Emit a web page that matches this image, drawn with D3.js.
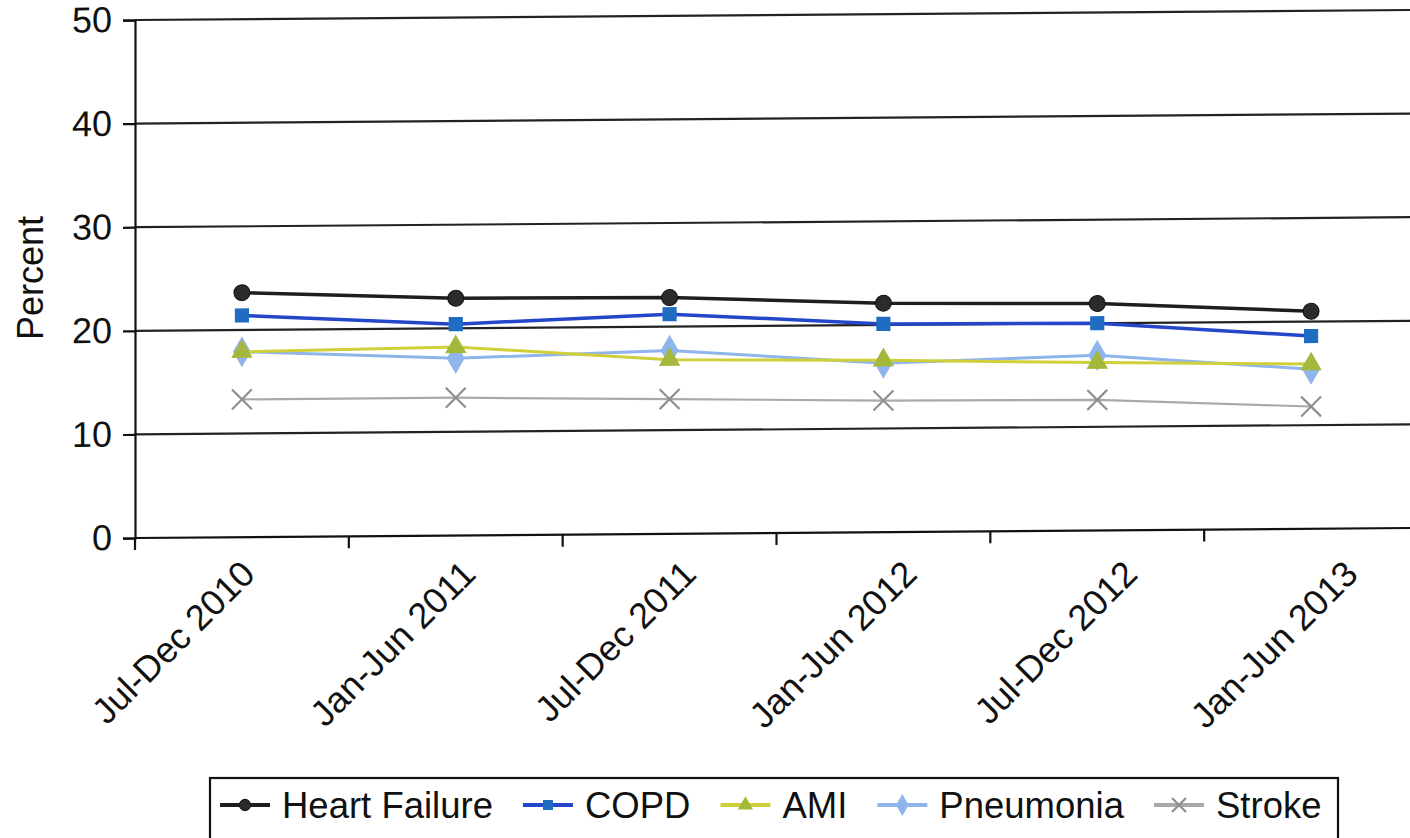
<!DOCTYPE html>
<html>
<head>
<meta charset="utf-8">
<script src="https://cdn.jsdelivr.net/npm/d3@7"></script>
<style>
  body { margin: 0; background: #fff; }
  text { font-family: "Liberation Sans", Arial, Helvetica, sans-serif; fill: #111; }
</style>
</head>
<body>
<div id="chart"></div>
<script>
// categories and series values
var categories = ["Jul-Dec 2010", "Jan-Jun 2011", "Jul-Dec 2011", "Jan-Jun 2012", "Jul-Dec 2012", "Jan-Jun 2013"];
var heartFailure = [23.6, 22.9, 22.8, 22.1, 21.9, 21.0];
var copd = [21.4, 20.4, 21.2, 20.1, 20.0, 18.6];
var ami = [17.9, 18.2, 16.8, 16.6, 16.2, 15.9];
var pneumonia = [17.9, 17.1, 17.7, 16.3, 16.9, 15.4];
var stroke = [13.3, 13.3, 13.0, 12.7, 12.6, 11.8];
var seriesNames = ["Heart Failure", "COPD", "AMI", "Pneumonia", "Stroke"];
var yTicks = [0, 10, 20, 30, 40, 50];

var series = [
  {name: seriesNames[0], values: heartFailure, line: "#1e1e1e", fill: "#2b2b2b", shape: "circle", lw: 3.5},
  {name: seriesNames[1], values: copd, line: "#2447c9", fill: "#1f6cc2", shape: "square", lw: 3.5},
  {name: seriesNames[2], values: ami, line: "#cfcf3a", fill: "#a4b93c", shape: "triangle", lw: 3},
  {name: seriesNames[3], values: pneumonia, line: "#8fb5ec", fill: "#8fb5ec", shape: "diamond", lw: 3},
  {name: seriesNames[4], values: stroke, line: "#a9a9a9", fill: "#8f8f8f", shape: "x", lw: 2.2}
];

var W = 1410, H = 838;
var margin = {top: 20, left: 135},
    plotRight = 1418,
    plotBottom = 538;

var svg = d3.select("#chart").append("svg")
    .attr("width", W)
    .attr("height", H);

var x = d3.scaleBand()
    .domain(categories)
    .range([margin.left, plotRight]);

// the scanned labels sit a bit wider apart than the points
var xLabel = d3.scalePoint()
    .domain(categories)
    .range([257, 1360]);

var y = d3.scaleLinear()
    .domain([0, 50])
    .range([plotBottom, margin.top]);

// the scan is slightly skewed, so the plot is sheared a little
var g = svg.append("g")
    .attr("transform", "translate(135,538) skewY(-0.45) translate(-135,-538)");

// gridlines
g.append("g").selectAll("line")
  .data(yTicks.filter(function(d) { return d > 0; }))
  .enter().append("line")
    .attr("x1", margin.left)
    .attr("x2", plotRight)
    .attr("y1", function(d) { return y(d); })
    .attr("y2", function(d) { return y(d); })
    .attr("stroke", "#222")
    .attr("stroke-width", 2.2);

// y axis
var yAxis = g.append("g")
    .attr("transform", "translate(" + margin.left + ",0)")
    .call(d3.axisLeft(y).tickValues(yTicks).tickSize(12).tickPadding(11));
yAxis.select(".domain").attr("stroke", "#111").attr("stroke-width", 2.2);
yAxis.selectAll(".tick line").attr("stroke", "#111").attr("stroke-width", 2.2);
yAxis.selectAll(".tick text")
    .style("font-size", "36px")
    .style("font-family", "Liberation Sans, Arial, sans-serif")
    .attr("fill", "#111");

// x axis line + boundary ticks
g.append("line")
    .attr("x1", margin.left).attr("x2", plotRight)
    .attr("y1", plotBottom).attr("y2", plotBottom)
    .attr("stroke", "#111").attr("stroke-width", 2.2);

var bounds = categories.map(function(c) { return x(c); }).concat([plotRight]);
g.append("g").selectAll("line")
  .data(bounds)
  .enter().append("line")
    .attr("x1", function(d) { return d; })
    .attr("x2", function(d) { return d; })
    .attr("y1", plotBottom)
    .attr("y2", plotBottom + 12)
    .attr("stroke", "#111")
    .attr("stroke-width", 2.2);

// rotated category labels
svg.append("g").selectAll("text")
  .data(categories)
  .enter().append("text")
    .attr("transform", function(d) {
      return "translate(" + xLabel(d) + "," + 576 + ") rotate(-45)";
    })
    .attr("text-anchor", "end")
    .style("font-size", "36px")
    .text(function(d) { return d; });

// y title
svg.append("text")
    .attr("transform", "translate(43,278) rotate(-90)")
    .attr("text-anchor", "middle")
    .style("font-size", "36px")
    .text("Percent");

// lines
var line = d3.line()
    .x(function(d, i) { return x(categories[i]) + x.bandwidth() / 2; })
    .y(function(d) { return y(d); });

function drawMarker(sel, s, size) {
  if (s.shape === "x") {
    sel.append("path")
      .attr("d", d3.symbol().type(d3.symbolX).size(size * 1.3))
      .attr("fill", "none")
      .attr("stroke", s.fill)
      .attr("stroke-width", 2.2);
  } else {
    var t = {circle: d3.symbolCircle, square: d3.symbolSquare, triangle: d3.symbolTriangle, diamond: d3.symbolDiamond}[s.shape];
    sel.append("path")
      .attr("d", d3.symbol().type(t).size(s.shape === "diamond" ? size * 1.4 : size))
      .attr("fill", s.fill)
      .attr("stroke", s.shape === "circle" ? "#111" : "none")
      .attr("stroke-width", 1);
  }
}

// draw back to front
series.slice().reverse().forEach(function(s) {
  var sg = g.append("g");
  sg.append("path")
    .datum(s.values)
    .attr("fill", "none")
    .attr("stroke", s.line)
    .attr("stroke-width", s.lw)
    .attr("d", line);
  sg.selectAll("g.pt")
    .data(s.values)
    .enter().append("g")
      .attr("class", "pt")
      .attr("transform", function(d, i) {
        return "translate(" + (x(categories[i]) + x.bandwidth() / 2) + "," + y(d) + ")";
      })
      .each(function() { drawMarker(d3.select(this), s, 200); });
});

// legend
var legend = svg.append("g");
legend.append("rect")
    .attr("x", 210).attr("y", 778)
    .attr("width", 1128).attr("height", 80)
    .attr("fill", "#fff")
    .attr("stroke", "#111")
    .attr("stroke-width", 2.2);

var lx = 220;
series.forEach(function(s) {
  var it = legend.append("g").attr("transform", "translate(" + lx + ",805)");
  it.append("line")
    .attr("x1", 0).attr("x2", 50)
    .attr("y1", 0).attr("y2", 0)
    .attr("stroke", s.line)
    .attr("stroke-width", 4);
  var m = it.append("g").attr("transform", "translate(25,0)");
  drawMarker(m, s, 100);
  var t = it.append("text")
    .attr("x", 62)
    .attr("y", 13)
    .style("font-size", "36.5px")
    .text(s.name);
  lx += 62 + t.node().getComputedTextLength() + 30;
});
</script>
</body>
</html>
